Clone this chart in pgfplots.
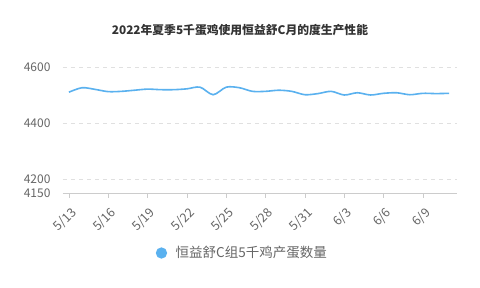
\documentclass[border=0pt]{standalone}
\usepackage{fontspec}
\setmainfont{Noto Sans CJK SC}
\usepackage{pgfplots}
\pgfplotsset{compat=1.18}
\definecolor{linec}{RGB}{90,177,239}
\definecolor{tickc}{RGB}{102,102,102}
\definecolor{gridc}{RGB}{224,224,224}
\definecolor{axisc}{RGB}{204,204,204}
\definecolor{titlec}{RGB}{51,51,51}
\begin{document}
\begin{tikzpicture}
\useasboundingbox[fill=white] (0pt,0pt) rectangle (480pt,288pt);
\node[font=\fontsize{11.8}{14}\selectfont\bfseries, text=titlec] at (240pt,258pt) {2022年夏季5千蛋鸡使用恒益舒C月的度生产性能};
\begin{axis}[
  at={(63pt,95pt)}, anchor=south west,
  scale only axis, width=394pt, height=131.6pt,
  xmin=-0.45, xmax=29.6,
  ymin=4150, ymax=4620,
  ytick={4150,4200,4400,4600},
  xtick={0,3,...,27},
  xticklabels={5/13,5/16,5/19,5/22,5/25,5/28,5/31,6/3,6/6,6/9},
  ticklabel style={font=\fontsize{12}{14}\selectfont, text=tickc},
  x tick label style={xshift=1pt, yshift=-7pt, rotate=45, anchor=north east, inner sep=1pt, font=\fontsize{12.5}{14}\selectfont},
  /pgf/number format/assume math mode=true,
  /pgf/number format/1000 sep={},
  ymajorgrids, grid style={gridc, dash pattern=on 4pt off 4pt, line width=0.6pt},
  axis x line*=bottom, axis y line*=left,
  x axis line style={axisc, line width=0.8pt, -},
  y axis line style={draw=none},
  xtick style={axisc, line width=0.8pt},
  tick align=outside, major tick length=5pt,
  ytick style={draw=none},
  yticklabel style={anchor=east, xshift=-4pt},
  legend style={at={(0.454,-0.456)}, anchor=center, draw=none, fill=none,
    font=\fontsize{13.5}{15}\selectfont, text=tickc},
  legend image code/.code={\fill[linec] (0.15cm,0cm) circle (4.8pt); \path (-0.05cm,0cm) (0.55cm,0cm);},
  clip=false,
]
\addplot[linec, line width=1.6pt, smooth, tension=0.5] coordinates {
(0,4510) (1,4526) (2,4520) (3,4512) (4,4513) (5,4517) (6,4521) (7,4519) (8,4519) (9,4522)
(10,4528) (11,4501) (12,4528) (13,4526) (14,4513) (15,4513) (16,4517) (17,4513) (18,4501) (19,4505)
(20,4513) (21,4500) (22,4508) (23,4500) (24,4506) (25,4508) (26,4501) (27,4506) (28,4505) (29,4506)
};
\addlegendentry{恒益舒C组5千鸡产蛋数量}
\end{axis}
\end{tikzpicture}
\end{document}
